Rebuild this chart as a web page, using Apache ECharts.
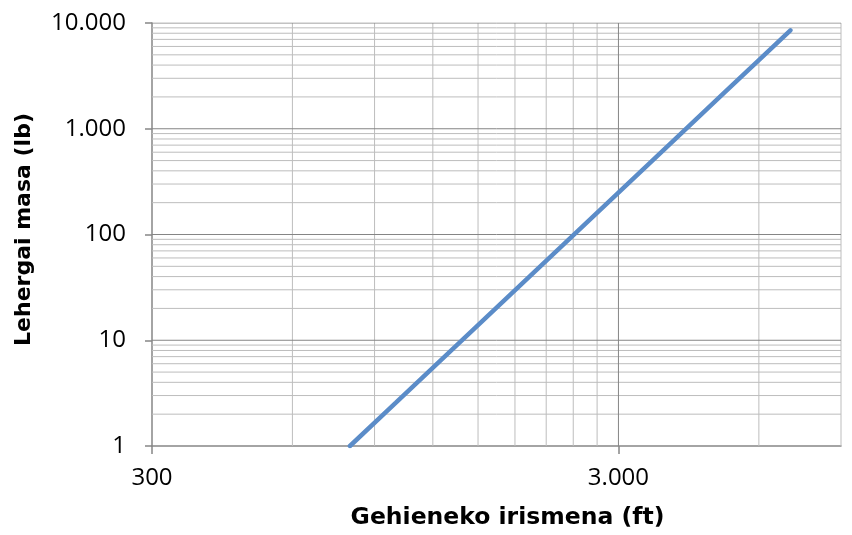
<!DOCTYPE html>
<html><head><meta charset="utf-8">
<script src="https://cdn.jsdelivr.net/npm/echarts@6/dist/echarts.min.js"></script>
<style>html,body{margin:0;padding:0;background:#fff}#c{width:852px;height:535px}</style>
</head><body><div id="c"></div>
<script>
// Data
const rangeFt = [797, 1000, 1500, 2000, 3000, 4000, 5000, 6000, 7011];
const massLb  = [1, 2.57, 13.9, 46, 249, 826, 2090, 4465, 8531];

// Axis ticks / gridlines
const xTickLabels = [300, 3000];
const xMajorGrid = [3000];
const xMinorGrid = [600, 900, 1200, 1500, 1800, 2100, 2400, 2700, 6000, 9000];
const yTickLabels = [1, 10, 100, 1000, 10000];
const yMajorGrid = [10, 100, 1000, 10000];
const yMinorGrid = [2,3,4,5,6,7,8,9,20,30,40,50,60,70,80,90,200,300,400,500,600,700,800,900,2000,3000,4000,5000,6000,7000,8000,9000];

const X_MIN = 300, X_MAX = 9000, Y_MIN = 1, Y_MAX = 10000;
const FONT = '"Open Sans", "Noto Sans", sans-serif';
const TITLE_FONT = '"DejaVu Sans", "Open Sans", sans-serif';
const fmt = v => String(Math.round(v)).replace(/\B(?=(\d{3})+(?!\d))/g, '.');

const series = [];
function gridSeries(vals, isX, color, z) {
  vals.forEach(v => {
    series.push({
      type: 'line', silent: true, animation: false, symbol: 'none', z: z,
      data: isX ? [[v, Y_MIN], [v, Y_MAX]] : [[X_MIN, v], [X_MAX, v]],
      lineStyle: { color: color, width: 1 }
    });
  });
}
gridSeries(yMinorGrid, false, '#bdbdbd', 1);
gridSeries(xMinorGrid, true, '#bdbdbd', 1);
gridSeries(yMajorGrid, false, '#858585', 2);
gridSeries(xMajorGrid, true, '#858585', 2);

series.push({
  type: 'line', animation: false, symbol: 'none', z: 5,
  data: rangeFt.map((x, i) => [x, massLb[i]]),
  lineStyle: { color: '#5B8CC8', width: 4.5, cap: 'round' }
});

const chart = echarts.init(document.getElementById('c'), null, { renderer: 'canvas' });
chart.setOption({
  backgroundColor: '#ffffff',
  animation: false,
  grid: { left: 152, right: 11, top: 23, bottom: 88, containLabel: false },
  xAxis: {
    type: 'log', logBase: 10, min: X_MIN, max: X_MAX,
    name: 'Gehieneko irismena (ft)', nameLocation: 'middle', nameGap: 60,
    nameTextStyle: { fontFamily: TITLE_FONT, fontWeight: 'bold', fontSize: 23.5, color: '#000', padding: [0, 0, 0, 22] },
    axisLine: { show: true, lineStyle: { color: '#868686', width: 1.5 } },
    axisTick: { show: true, inside: false, length: 8, customValues: xTickLabels, lineStyle: { color: '#868686', width: 1.5 } },
    axisLabel: { customValues: xTickLabels, formatter: fmt, margin: 20, fontFamily: FONT, fontSize: 24, color: '#000' },
    splitLine: { show: false }, minorTick: { show: false }
  },
  yAxis: {
    type: 'log', logBase: 10, min: Y_MIN, max: Y_MAX,
    name: 'Lehergai masa (lb)', nameLocation: 'middle', nameGap: 117,
    nameTextStyle: { fontFamily: TITLE_FONT, fontWeight: 'bold', fontSize: 22, color: '#000', padding: [0, 0, 0, 10] },
    axisLine: { show: true, lineStyle: { color: '#868686', width: 1.5 } },
    axisTick: { show: true, inside: false, length: 7, customValues: yTickLabels, lineStyle: { color: '#868686', width: 1.5 } },
    axisLabel: { customValues: yTickLabels, formatter: fmt, margin: 26, fontFamily: FONT, fontSize: 24, color: '#000' },
    splitLine: { show: false }, minorTick: { show: false }
  },
  series: series
});
</script>
</body></html>
